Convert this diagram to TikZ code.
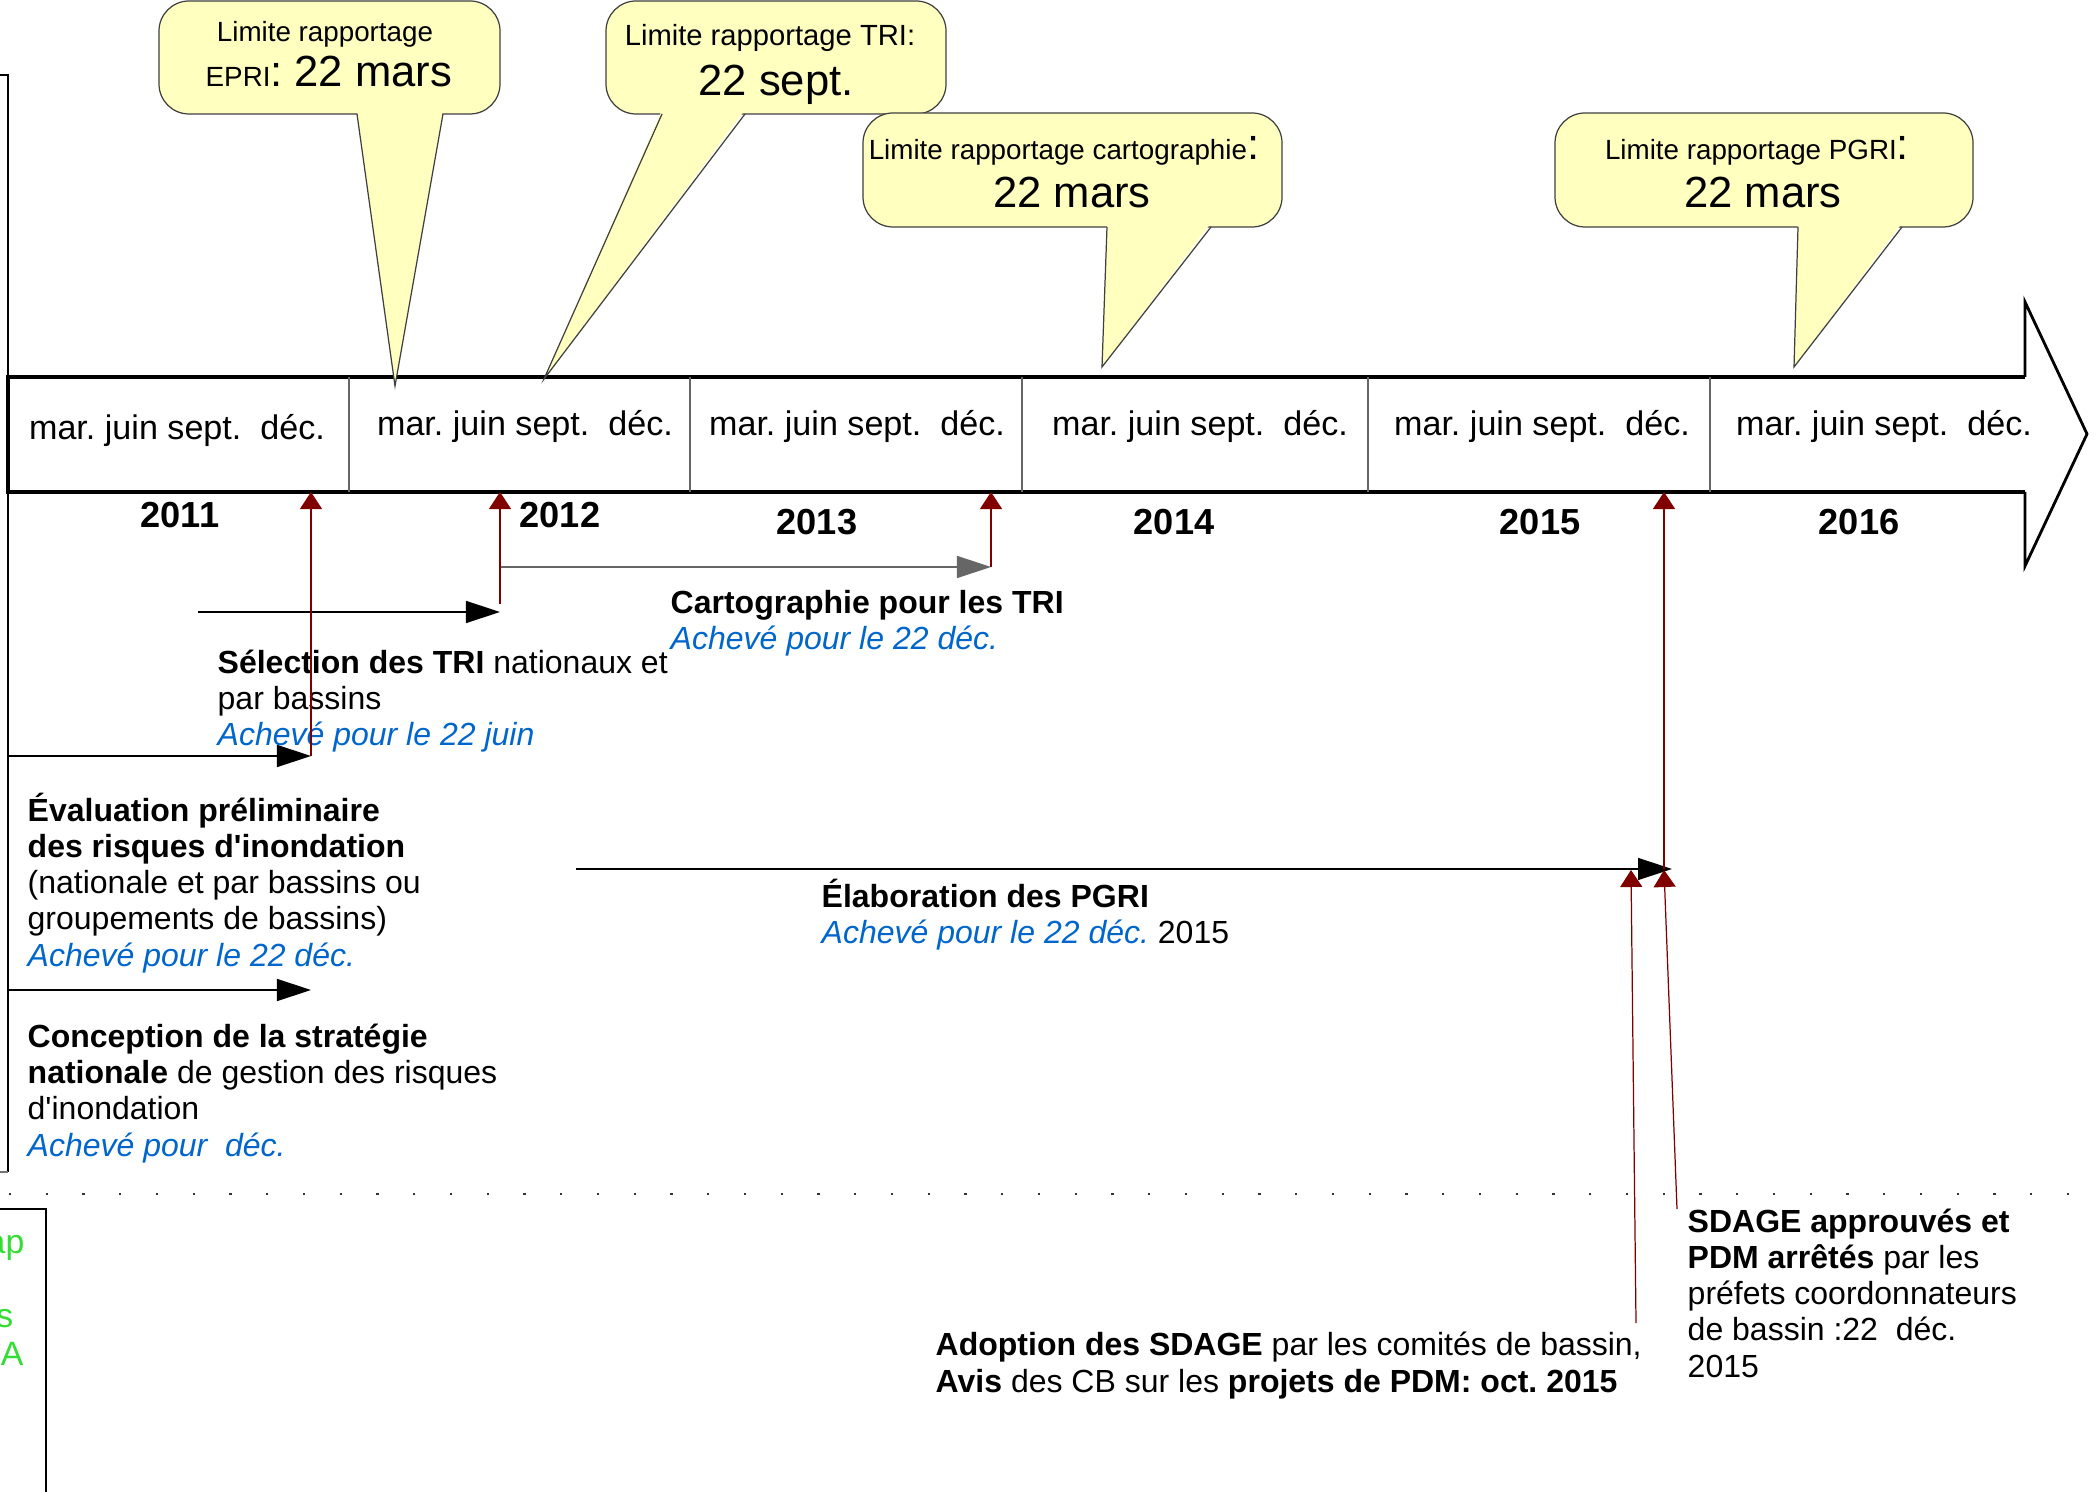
\documentclass[tikz,border=0pt]{standalone}
\usepackage{fontspec}
\setmainfont{Liberation Sans}[Ligatures=TeXOff]
\usepackage{tikz}
\usetikzlibrary{arrows.meta}

\definecolor{jaune}{RGB}{255,255,192}
\definecolor{bleuach}{RGB}{0,102,204}
\definecolor{rouge}{RGB}{128,0,0}
\definecolor{vert}{RGB}{51,221,51}

\newcommand{\ftexte}{\fontsize{9.1}{10.25}\selectfont}
\newcommand{\fmois}{\fontsize{9.7}{11}\selectfont}
\newcommand{\fannee}{\fontsize{10.3}{12}\selectfont\bfseries}
\newcommand{\fpetit}{\fontsize{7.9}{9}\selectfont}
\newcommand{\fgrand}{\fontsize{12.4}{14}\selectfont}
\newcommand{\acheve}[1]{\textcolor{bleuach}{\itshape #1}}

\begin{document}
\frenchspacing
\begin{tikzpicture}[x=0.01cm, y=-0.01cm,
    every node/.style={inner sep=0pt},
    bande/.style={line width=1pt},
    tete/.style={line width=0.8pt, line join=miter},
    sep/.style={draw=black!60, line width=0.3pt},
    bulle/.style={draw=black!75, fill=jaune, line width=0.35pt, rounded corners=0.3cm},
    queue/.style={draw=black!75, line width=0.35pt},
    mois/.style={font=\fmois, anchor=base},
    annee/.style={font=\fannee, anchor=base},
    texte/.style={font=\ftexte, align=left, anchor=base west},
    fleche/.style={line width=0.4pt, -{Triangle[length=3.4mm,width=2.2mm]}},
    rfleche/.style={draw=rouge, line width=0.35pt, -{Triangle[length=1.7mm,width=2.2mm]}},
    cadre/.style={line width=0.35pt},
    vtxt/.style={font=\fontsize{9.6}{11}\selectfont, text=vert, anchor=base east}]
  \useasboundingbox (0,0) rectangle (2100,1492);

  % frise
  \draw[bande] (2025,377) -- (8,377) -- (8,492) -- (2025,492);
  \draw[tete] (2025,377) -- (2025,302) -- (2087,434) -- (2025,566) -- (2025,492);
  \foreach \dx in {349,690,1022,1368,1710}
    \draw[sep] (\dx,377) -- (\dx,492);
  \foreach \cx/\by [count=\i] in {177/440,525/436,857/436,1200/436,1542/436,1884/436}
    \node[mois] (mois\i) at (\cx,\by) {mar. juin sept.\ \ déc.};
  \foreach \yr/\cx/\by in {2011/180/528,2012/560/528,2013/817/535,2014/1174/535,2015/1540/535,2016/1859/535}
    \node[annee] (an\yr) at (\cx,\by) {\yr};

  % bulles
  \foreach \l/\t/\r/\b/\pa/\pb/\tx/\ty [count=\i] in {159/1/500/114/357/443/395/386,606/1/946/114/662/745/544/379,863/113/1282/227/1107/1211/1102/367,1555/113/1973/227/1798/1902/1794/367}{
    \draw[bulle] (\l,\t) rectangle (\r,\b);
    \coordinate (pointe\i) at (\tx,\ty);
    \fill[jaune] (\pa,\b-4) -- (pointe\i) -- (\pb,\b-4) -- cycle;
    \draw[queue] (\pa,\b) -- (pointe\i) -- (\pb,\b);
  }
  \node[anchor=base, font=\fpetit] (lim1) at (325,42) {Limite rapportage};
  \node[anchor=base] (dat1) at (329,87) {{\fpetit EPRI}{\fgrand: 22 mars}};
  \node[anchor=base, font=\fontsize{8.3}{9}\selectfont] (lim2) at (770,46) {Limite rapportage TRI:};
  \node[anchor=base, font=\fgrand] (dat2) at (776,96) {22 sept.};
  \node[anchor=base] (lim3) at (1064,160) {{\fpetit Limite rapportage cartographie}{\fgrand:}};
  \node[anchor=base, font=\fgrand] (dat3) at (1072,208) {22 mars};
  \node[anchor=base] (lim4) at (1757,160) {{\fpetit Limite rapportage PGRI}{\fgrand:}};
  \node[anchor=base, font=\fgrand] (dat4) at (1763,208) {22 mars};

  % cadres a gauche
  \draw[cadre] (-10,75) -- (8,75) -- (8,1172);
  \draw[cadre, draw=black!55] (8,1172) -- (-10,1172);
  \draw[cadre] (-10,1209) -- (46,1209) -- (46,1500);
  \draw[black!80, line width=0.5pt, dash pattern=on 0.6pt off 9.85pt] (9,1194) -- (2100,1194);
  \node[vtxt] (g1) at (25,1253) {ap};
  \node[vtxt] (g2) at (14,1327) {s};
  \node[vtxt] (g3) at (24,1365) {A};

  % textes (base = derniere ligne)
  \node[texte] (carto) at (670,650) {\textbf{Cartographie pour les TRI}\\\acheve{Achevé pour le 22 déc.}};
  \node[texte] (selec) at (217,746) {\textbf{Sélection des TRI} nationaux et\\par bassins\\\acheve{Achevé pour le 22 juin}};
  \node[texte] (epri) at (27,966) {\textbf{Évaluation préliminaire}\\\textbf{des risques d'inondation}\\(nationale et par bassins ou\\groupements de bassins)\\\acheve{Achevé pour le 22 déc.}};
  \node[texte] (snat) at (27,1156) {\textbf{Conception de la stratégie}\\\textbf{nationale} de gestion des risques\\d'inondation\\\acheve{Achevé pour\ \ déc.}};
  \node[texte] (pgri) at (821,944) {\textbf{Élaboration des PGRI}\\\acheve{Achevé pour le 22 déc.} 2015};
  \node[texte] (adop) at (935,1392) {\textbf{Adoption des SDAGE} par les comités de bassin,\\\textbf{Avis} des CB sur les \textbf{projets de PDM: oct. 2015}};
  \node[texte] (appr) at (1687,1377) {\textbf{SDAGE approuvés et}\\\textbf{PDM arrêtés} par les\\préfets coordonnateurs\\de bassin :22\ \ déc.\\2015};

  % fleches
  \coordinate (m11) at (311,492);
  \coordinate (m12) at (500,492);
  \coordinate (m13) at (991,492);
  \coordinate (m15) at (1664,492);
  \coordinate (e11) at (311,756);
  \coordinate (e12) at (500,612);
  \coordinate (e13) at (991,567);
  \coordinate (e15) at (1672,869);
  \draw[fleche] (198,612) -- (e12);
  \draw[fleche] (8,756) -- (e11);
  \draw[fleche] (8,990) -- (311,990);
  \draw[fleche, black!60] (500,567) -- (e13);
  \draw[fleche] (576,869) -- (e15);
  \draw[rfleche] (e11) -- (m11);
  \draw[rfleche] (500,604) -- (m12);
  \draw[rfleche] (e13) -- (m13);
  \draw[rfleche] (1664,869) -- (m15);
  \draw[rfleche] (1677,1209) -- (1664,870);
  \draw[rfleche] (1636,1323) -- (1631,870);
\end{tikzpicture}
\end{document}
